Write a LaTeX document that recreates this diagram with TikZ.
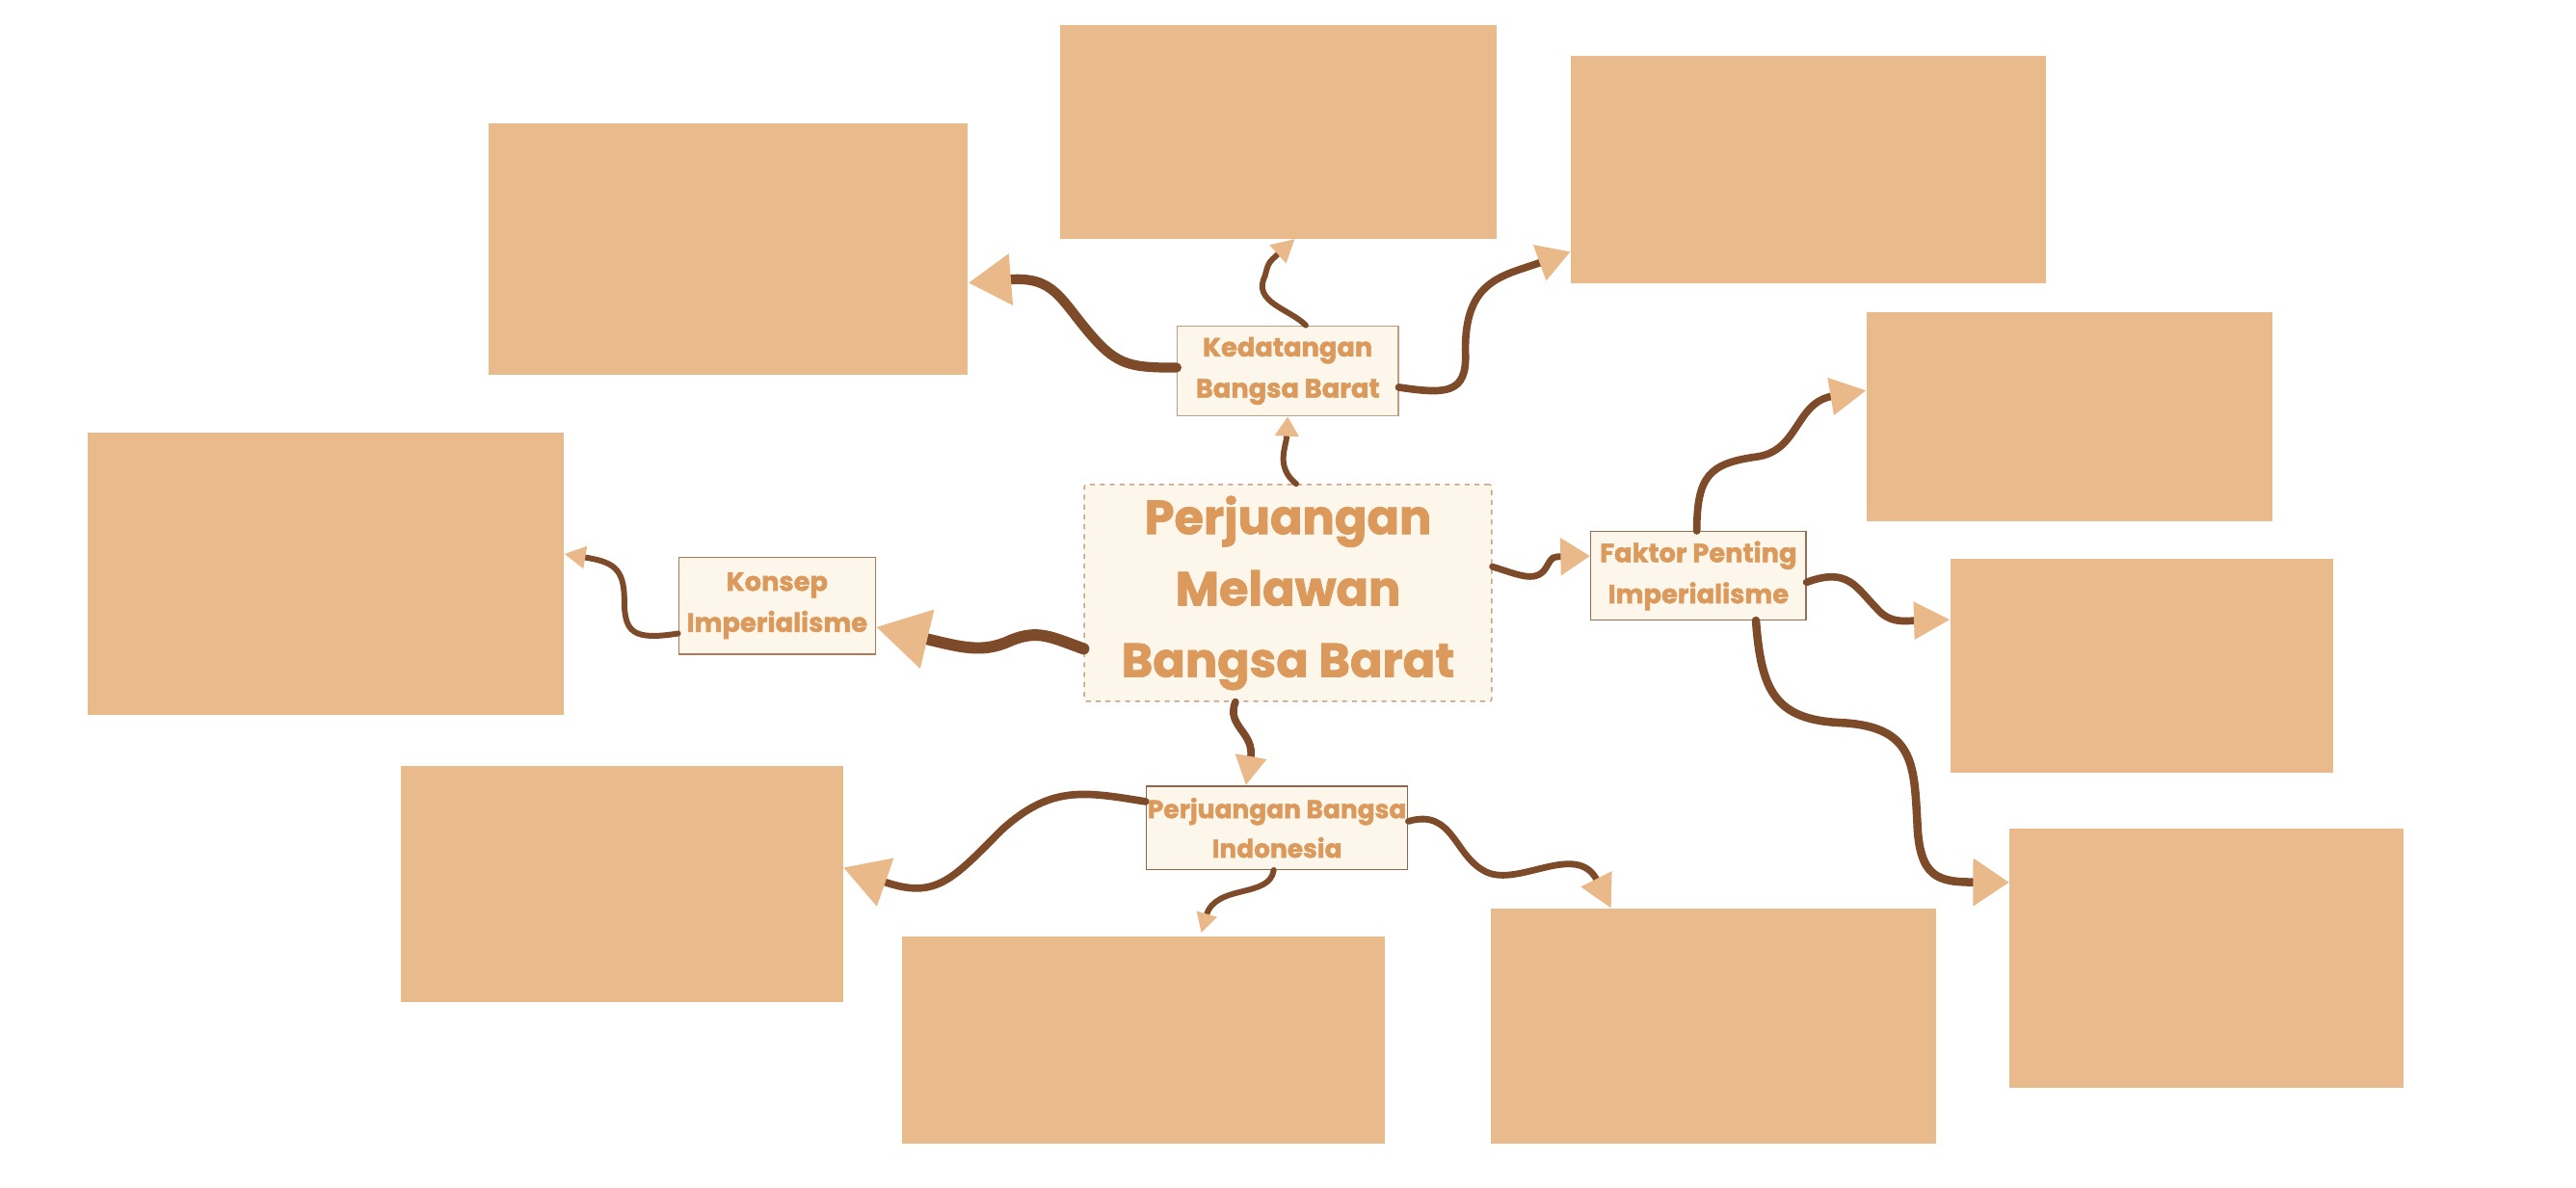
\documentclass[tikz,border=0pt]{standalone}
\usepackage{fontspec}
\setmainfont{Poppins}[BoldFeatures={FakeBold=1.6}]
\usepackage{tikz}
\usetikzlibrary{arrows.meta, calc, positioning}
\definecolor{leafc}{HTML}{E9BB8C}
\definecolor{tipc}{HTML}{EAB98A}
\definecolor{barkc}{HTML}{7D4A2A}
\definecolor{paperc}{HTML}{FDF6EB}
\definecolor{inkc}{HTML}{DC995C}
\definecolor{rimc}{HTML}{A97A5B}
\definecolor{dashc}{HTML}{C4A48C}

\begin{document}
\begin{tikzpicture}[>=latex, x=1pt, y=-1pt,
  leaf/.style 2 args={fill=leafc, inner sep=0pt, anchor=north west, minimum width=#1, minimum height=#2},
  sub/.style 2 args={draw=rimc, line width=0.8pt, fill=paperc, text=inkc, align=center, inner sep=0pt,
    minimum width=#1, minimum height=#2, font=\fontsize{16}{25}\selectfont\bfseries},
  twig/.style n args={3}{draw=barkc, line width=#1, line cap=round,
    -{Triangle[length=#2, width=#3, color=tipc]}}]
\useasboundingbox (0,0) rectangle (1568,723);
% outer boxes
\node[leaf={266pt}{130pt}] (r1) at (645,15) {};
\node[leaf={289pt}{138pt}] (r2) at (956,34) {};
\node[leaf={292pt}{153pt}] (r3) at (297,75) {};
\node[leaf={290pt}{172pt}] (r4) at (53,263) {};
\node[leaf={247pt}{127pt}] (r5) at (1136,190) {};
\node[leaf={233pt}{130pt}] (r6) at (1187,340) {};
\node[leaf={240pt}{158pt}] (r7) at (1223,504) {};
\node[leaf={269pt}{144pt}] (r8) at (244,466) {};
\node[leaf={294pt}{126pt}] (r9) at (549,570) {};
\node[leaf={271pt}{143pt}] (r10) at (907,553) {};
% centre and topics
\node[draw=dashc, dashed, line width=0.8pt, rounded corners=1.5pt, fill=paperc, text=inkc, align=center,
  minimum width=248pt, minimum height=132pt, inner sep=0pt,
  font=\fontsize{29}{43.5}\selectfont\bfseries] (cen) at (784,361) {Perjuangan\\Melawan\\Bangsa Barat};
\node[sub={134.5pt}{54.7pt}, draw=dashc!80!rimc] (ked) at (783.8,225.8) {Kedatangan\\Bangsa Barat};
\node[sub={119.7pt}{59pt}] (kon) at (473,368.7) {Konsep\\Imperialisme};
\node[sub={131pt}{53.8pt}, draw=barkc!80] (fak) at (1033.8,350.5) {Faktor Penting\\Imperialisme};
\node[sub={159.2pt}{50.6pt}, font=\fontsize{15.5}{24}\selectfont\bfseries, draw=barkc!85] (pb) at (777.3,504) {Perjuangan Bangsa\\Indonesia};
% from the centre
\draw[twig={3.5pt}{12pt}{14pt}] ([xshift=5pt]cen.north) .. controls (776,284) and (783,272) .. (ked.south);
\draw[twig={7pt}{32pt}{35pt}] ([yshift=-34pt]cen.west) .. controls (640,388) and (632,383) .. (615,390)
  .. controls (598,398) and (585,394) .. ([yshift=-13pt]kon.east);
\draw[twig={4pt}{18pt}{22pt}] ([yshift=16pt]cen.east) .. controls (925,350) and (936,356) .. (942,344)
  .. controls (945,339) .. ([yshift=12pt]fak.west);
\draw[twig={4.5pt}{18pt}{18pt}] ([xshift=-32pt]cen.south) .. controls (746,442) and (764,446) .. ([xshift=-19pt]pb.north);
% Kedatangan Bangsa Barat
\draw[twig={6pt}{26pt}{30pt}] ([yshift=2pt]ked.west) .. controls (688,224) and (680,222) .. (665,205)
  .. controls (645,182) and (642,168) .. ([yshift=-20.5pt]r3.east);
\draw[twig={3.5pt}{14pt}{14pt}] ([xshift=11pt]ked.north) .. controls (785,188) and (762,184) .. (770,168)
  .. controls (772,160) .. ([xshift=10pt]r1.south);
\draw[twig={4.5pt}{20pt}{22pt}] ([yshift=-10pt]ked.east) .. controls (880,240) and (893,240) .. (892,215)
  .. controls (891,170) and (915,168) .. ([yshift=-50pt]r2.west);
% Konsep Imperialisme
\draw[twig={3.5pt}{13pt}{13pt}] ([yshift=-17pt]kon.west) .. controls (385,390) and (380,385) .. (380,365)
  .. controls (380,345) and (372,342) .. ([yshift=12pt]r4.east);
% Faktor Penting Imperialisme
\draw[twig={4.5pt}{22pt}{22pt}] ([xshift=-1pt]fak.north) .. controls (1033,290) and (1040,282) .. (1070,278)
  .. controls (1095,274) and (1093,245) .. ([yshift=16pt]r5.west);
\draw[twig={4.5pt}{22pt}{22pt}] ([yshift=-4pt]fak.east) .. controls (1125,345) and (1130,358) .. (1142,370)
  .. controls (1150,380) and (1160,378) .. ([yshift=28pt]r6.west);
\draw[twig={5pt}{22pt}{28pt}] ([xshift=35pt]fak.south) .. controls (1072,420) and (1080,438) .. (1120,440)
  .. controls (1165,442) and (1165,465) .. (1167,500) .. controls (1168,535) and (1180,537) .. ([yshift=46pt]r7.west);
% Perjuangan Bangsa Indonesia
\draw[twig={4.5pt}{27pt}{30pt}] ([yshift=16pt]pb.west) .. controls (660,482) and (640,478) .. (610,505)
  .. controls (580,535) and (570,548) .. ([yshift=10pt]r8.east);
\draw[twig={3.5pt}{12pt}{12pt}] ([xshift=-2pt]pb.south) .. controls (773,547) and (740,538) .. ([xshift=35pt,yshift=2pt]r9.north);
\draw[twig={4pt}{20pt}{20pt}] ([yshift=4pt]pb.east) .. controls (885,492) and (885,522) .. (905,531)
  .. controls (925,540) and (960,512) .. ([xshift=-62pt]r10.north);
\end{tikzpicture}
\end{document}
